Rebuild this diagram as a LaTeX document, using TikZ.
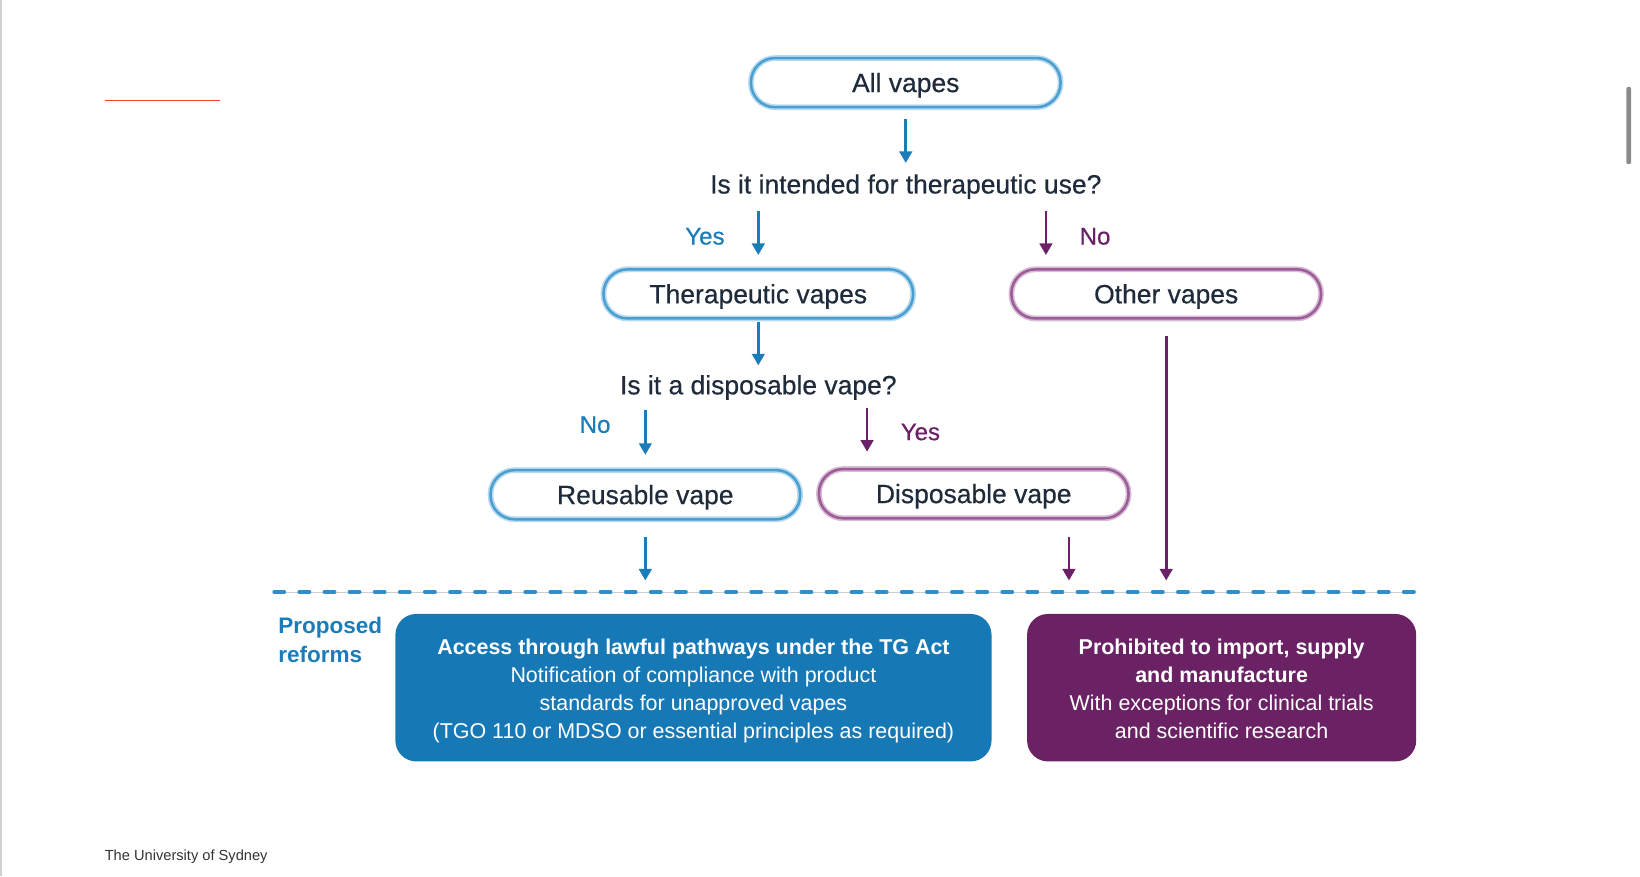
\documentclass[tikz,border=0pt]{standalone}
\usepackage{fontspec}
\setmainfont{Liberation Sans}
\newfontfamily\medfont[BoldFont={Liberation Sans}, BoldFeatures={FakeBold=0.5}]{Liberation Sans}
\usetikzlibrary{arrows.meta}
\definecolor{txt}{HTML}{1F2B3A}
\definecolor{bl}{HTML}{1A7DBA}
\definecolor{bllt}{HTML}{4A9FD2}
\definecolor{blglow}{HTML}{B8DAEF}
\definecolor{pu}{HTML}{6B2167}
\definecolor{pult}{HTML}{9C5C97}
\definecolor{puglow}{HTML}{D8BCD5}
\definecolor{boxbl}{HTML}{1679B6}
\definecolor{boxpu}{HTML}{6A2264}
\definecolor{dashbl}{HTML}{2E8FCC}
\definecolor{redline}{HTML}{E8472C}
\begin{document}
\begin{tikzpicture}[x=1pt,y=-1pt,
  pill/.style={rounded corners=23pt, minimum width=296pt, minimum height=47pt, inner sep=0pt,
    font=\fontsize{25.3}{30}\medfont\bfseries, text=txt, line width=2.4pt,
    text height=20pt, text depth=2pt},
  bpill/.style={pill, draw=bllt, preaction={draw=blglow, line width=5.5pt}},
  ppill/.style={pill, draw=pult, preaction={draw=puglow, line width=5.5pt}},
  ques/.style={font=\fontsize{25.3}{30}\medfont\bfseries, text=txt, inner sep=0pt,
    text height=20pt, text depth=2pt},
  lab/.style={font=\fontsize{23}{28}\medfont\bfseries, inner sep=0pt},
  barr/.style={draw=bl, line width=2.5pt, -{Triangle[length=11pt,width=12pt]}},
  parr/.style={draw=pu, line width=2.5pt, -{Triangle[length=11pt,width=12pt]}},
  bigbox/.style={rounded corners=20pt, inner sep=0pt, text=white, align=center,
    font=\fontsize{20.5}{26.5}\selectfont, minimum height=141pt},
]
\useasboundingbox (0,0) rectangle (1568,838);
% page decorations
\draw[color={rgb,255:red,208;green,208;blue,208}, line width=1.5pt] (0.8,0) -- (0.8,838);
\draw[redline, line width=1.6pt] (100,96) -- (210,96);
\fill[color={rgb,255:red,138;green,138;blue,138}, rounded corners=2pt] (1555,83) rectangle (1559.5,157);
\node[anchor=base west, inner sep=0pt, font=\fontsize{14}{16}\selectfont,
  text={rgb,255:red,51;green,51;blue,51}] (uni) at (100,823) {The University of Sydney};

% nodes
\node[bpill] (all) at (866,79) {All vapes};
\node[ques] (q1) at (866,176) {Is it intended for therapeutic use?};
\node[bpill] (ther) at (725,281) {Therapeutic vapes};
\node[ppill] (other) at (1115,281) {Other vapes};
\node[ques] (q2) at (725,368) {Is it a disposable vape?};
\node[bpill] (reuse) at (617,473) {Reusable vape};
\node[ppill] (disp) at (931,472) {Disposable vape};

\node[lab, text=bl] (yes1) at (674,226) {Yes};
\node[lab, text=pu] (no1) at (1047,226) {No};
\node[lab, text=bl] (no2) at (569,406) {No};
\node[lab, text=pu] (yes2) at (880,413) {Yes};

\coordinate (nx) at (1000,0);
\coordinate (yx) at (829,0);
\coordinate (dx) at (1022,0);
\coordinate (dl) at (262,566);
\coordinate (dr) at (1352,566);

% arrows
\draw[barr, shorten <=10.5pt, shorten >=9pt] (all.south) -- (q1.north -| all.south);
\draw[barr, shorten <=15pt, shorten >=12.5pt] (q1.south -| ther.north) -- (ther.north);
\draw[parr, shorten <=15pt, shorten >=12.5pt] (q1.south -| nx) -- (other.north -| nx);
\draw[barr, shorten <=2.5pt, shorten >=7.5pt] (ther.south) -- (q2.north -| ther.south);
\draw[barr, shorten <=13pt, shorten >=13.5pt] (q2.south -| reuse.north) -- (reuse.north);
\draw[parr, shorten <=11pt, shorten >=15.5pt] (q2.south -| yx) -- (disp.north -| yx);
\draw[barr, shorten <=15.5pt, shorten >=11pt] (reuse.south) -- (dl -| reuse.south);
\draw[parr, shorten <=16.5pt, shorten >=11pt] (disp.south -| dx) -- (dl -| dx);
\draw[parr, shorten <=15.5pt, shorten >=11pt] (other.south) -- (dl -| other.south);

% dashed separator
\draw[color={rgb,255:red,205;green,205;blue,205}, line width=0.8pt] (dl) -- (dr);
\draw[dashbl, line width=3.2pt, line cap=round, dash pattern=on 10pt off 14pt] (dl) -- (dr);

% proposed reforms
\node[anchor=north west, inner sep=0pt, align=left, text=bl,
  font=\fontsize{21.5}{28}\bfseries\selectfont] (prop) at (266,590) {Proposed\\reforms};
\node[bigbox, fill=boxbl, minimum width=570pt] (acc) at (663,657.5)
  {\rule{0pt}{21pt}\textbf{Access through lawful pathways under the TG Act}\\
   Notification of compliance with product\\
   standards for unapproved vapes\\
   (TGO 110 or MDSO or essential principles as required)};
\node[bigbox, fill=boxpu, minimum width=372pt] (proh) at (1168,657.5)
  {\rule{0pt}{21pt}\textbf{Prohibited to import, supply}\\
   \textbf{and manufacture}\\
   With exceptions for clinical trials\\
   and scientific research\rule[-4.3pt]{0pt}{4.3pt}};
\end{tikzpicture}
\end{document}
